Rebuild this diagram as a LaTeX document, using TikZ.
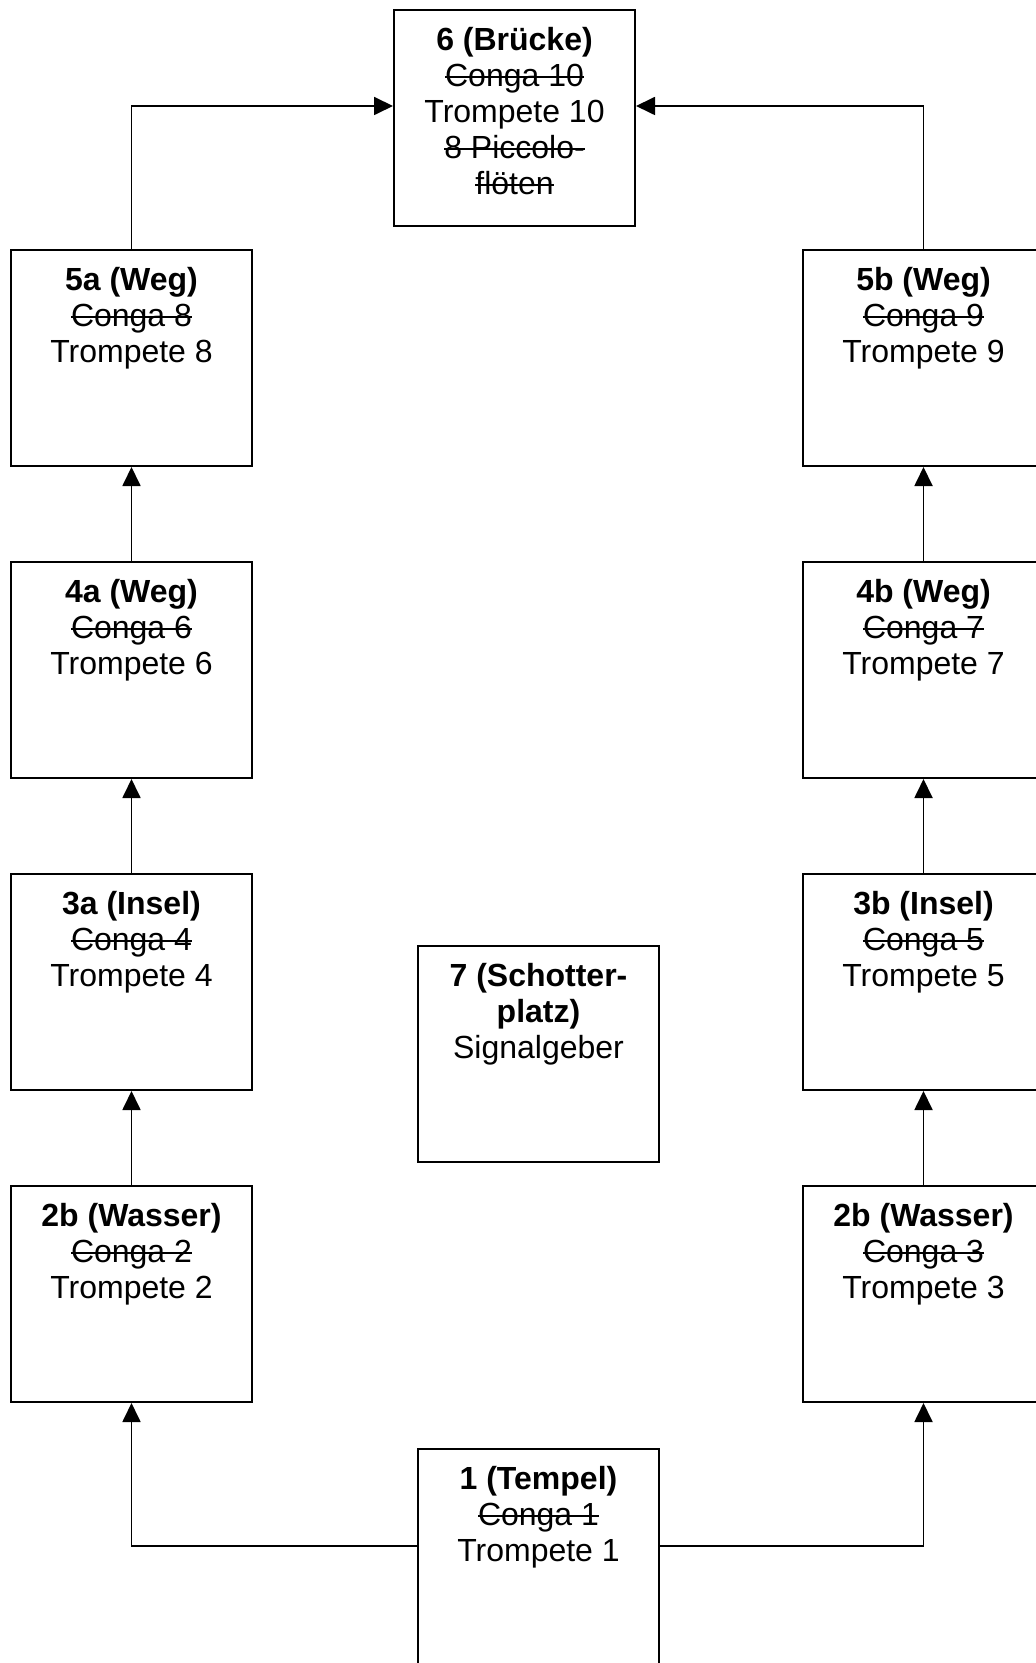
\documentclass[tikz,border=0pt]{standalone}
\usepackage{fontspec}
\setmainfont{Liberation Sans}
\usetikzlibrary{arrows.meta}

\newsavebox{\strkbox}
\newcommand{\strk}[1]{\sbox{\strkbox}{#1}\rlap{\rule[\dimexpr0.28em-0.5pt\relax]{\wd\strkbox}{1pt}}\usebox{\strkbox}}

\tikzset{
  station/.style={draw, line width=1pt, minimum width=120.5pt, minimum height=108pt, inner sep=0pt},
  stext/.style={anchor=north, align=center, inner sep=0pt, font=\fontsize{16}{18}\selectfont},
  link/.style={line width=0.9pt, -{Triangle[length=9.5pt,width=9pt]}},
}

\begin{document}
\begin{tikzpicture}[x=0.5pt, y=-0.5pt]
 \useasboundingbox (0,0) rectangle (1036,1663);

 \def\xl{131.5}
 \def\xr{923.5}

 %bridge at the top
 \node[station] (b6) at (514.5,118) {};
 \node[stext] (t6) at ([yshift=-8.85pt]b6.north) {\textbf{6 (Brücke)}\\\strk{Conga 10}\\Trompete 10\\\strk{8 Piccolo-}\\\strk{flöten}};

 %left column
 \foreach \n/\y/\ttl/\nr in {2/1294/2b (Wasser)/2, 3/982/3a (Insel)/4, 4/670/4a (Weg)/6, 5/358/5a (Weg)/8} {
         \node[station] (l\n) at (\xl,\y) {};
         \node[stext] (lt\n) at ([yshift=-8.85pt]l\n.north) {\textbf{\ttl}\\\strk{Conga \nr}\\Trompete \nr};
 }

 %right column
 \foreach \n/\y/\ttl/\nr in {2/1294/2b (Wasser)/3, 3/982/3b (Insel)/5, 4/670/4b (Weg)/7, 5/358/5b (Weg)/9} {
         \node[station] (r\n) at (\xr,\y) {};
         \node[stext] (rt\n) at ([yshift=-8.85pt]r\n.north) {\textbf{\ttl}\\\strk{Conga \nr}\\Trompete \nr};
 }

 %middle
 \node[station] (b7) at (538.5,1054) {};
 \node[stext] (t7) at ([yshift=-8.85pt]b7.north) {\textbf{7 (Schotter-}\\\textbf{platz)}\\Signalgeber};

 %temple at the bottom
 \node[station] (b1) at (538.5,1557) {};
 \node[stext] (t1) at ([yshift=-8.85pt]b1.north) {\textbf{1 (Tempel)}\\\strk{Conga 1}\\Trompete 1};

 %arrows
 \draw[link] ([yshift=5.5pt]b1.west) -| (l2);
 \draw[link] ([yshift=5.5pt]b1.east) -| (r2);

 \foreach \a/\b in {2/3, 3/4, 4/5} {
         \draw[link] (l\a) -- (l\b);
         \draw[link] (r\a) -- (r\b);
 }

 \draw[link] (l5) |- ([yshift=6pt]b6.west);
 \draw[link] (r5) |- ([yshift=6pt]b6.east);

\end{tikzpicture}
\end{document}
